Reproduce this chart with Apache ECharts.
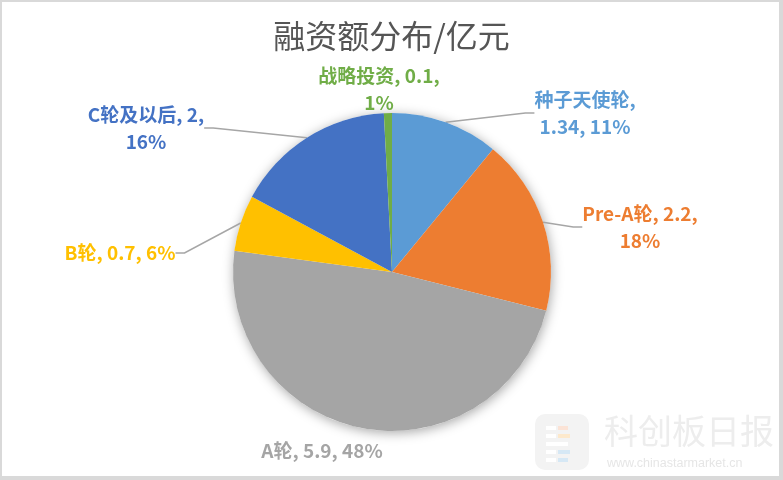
<!DOCTYPE html>
<html>
<head>
<meta charset="utf-8">
<script src="https://cdn.jsdelivr.net/npm/echarts@6/dist/echarts.min.js"></script>
<style>
  html, body { margin: 0; padding: 0; background: #fff; }
  #wrap { position: relative; width: 783px; height: 480px; }
  #chart { position: absolute; left: 0; top: 0; width: 783px; height: 480px; }
  #frame { position: absolute; left: 0; top: 0; width: 777px; height: 474px;
           border-style: solid; border-color: #d9d9d9; border-width: 2px 4px 4px 2px; pointer-events: none; }
</style>
</head>
<body>
<div id="wrap"><div id="chart"></div><div id="frame"></div></div>
<script>
// ---- data ----
const chartTitle = '融资额分布/亿元';
const categories = ['种子天使轮', 'Pre-A轮', 'A轮', 'B轮', 'C轮及以后', '战略投资'];
const values = [1.34, 2.2, 5.9, 0.7, 2, 0.1];
const watermarkName = '科创板日报';
const watermarkUrl = 'www.chinastarmarket.cn';

// ---- styles / layout ----
const colors = ['#5B9BD5', '#ED7D31', '#A5A5A5', '#FFC000', '#4472C4', '#70AD47'];
const labelTemplates = ['{b},\n{c}, {d}%', '{b}, {c},\n{d}%', '{b}, {c}, {d}%', '{b}, {c}, {d}%', '{b}, {c},\n{d}%', '{b}, {c},\n{d}%'];
const labelCenters = [[585, 113], [640, 227], [322, 451], [120, 253], [146, 128], [379, 89]];
const showLine = [true, true, false, true, true, false];

const chart = echarts.init(document.getElementById('chart'), null, { renderer: 'canvas' });
const FONT = '"Noto Sans CJK SC", "Noto Sans", sans-serif';

const pieData = categories.map((name, i) => ({
  name: name,
  value: values[i],
  itemStyle: { color: colors[i] },
  label: {
    color: colors[i],
    formatter: labelTemplates[i]
  },
  labelLine: { show: showLine[i] }
}));

const option = {
  animation: false,
  title: {
    text: chartTitle,
    left: 'center',
    top: 20,
    padding: 0,
    textStyle: { fontFamily: FONT, fontSize: 32, fontWeight: 'normal', color: '#555555' }
  },
  graphic: [
    { type: 'rect', left: 535, top: 414, shape: { width: 54, height: 56, r: 10 }, style: { fill: '#f3f3f3' }, z: 0 },
    { type: 'rect', left: 546, top: 426, shape: { width: 10, height: 4 }, style: { fill: '#ffffff' } },
    { type: 'rect', left: 558, top: 426, shape: { width: 10, height: 4 }, style: { fill: '#fbe3d6' } },
    { type: 'rect', left: 546, top: 434, shape: { width: 10, height: 4 }, style: { fill: '#ffffff' } },
    { type: 'rect', left: 558, top: 434, shape: { width: 12, height: 4 }, style: { fill: '#fde9cc' } },
    { type: 'rect', left: 546, top: 442, shape: { width: 22, height: 4 }, style: { fill: '#ffffff' } },
    { type: 'rect', left: 546, top: 450, shape: { width: 10, height: 4 }, style: { fill: '#ffffff' } },
    { type: 'rect', left: 558, top: 450, shape: { width: 12, height: 4 }, style: { fill: '#d6e8f5' } },
    { type: 'rect', left: 546, top: 458, shape: { width: 10, height: 4 }, style: { fill: '#ffffff' } },
    { type: 'rect', left: 558, top: 458, shape: { width: 10, height: 4 }, style: { fill: '#d6e8f5' } },
    { type: 'text', left: 604, top: 414, style: { text: watermarkName, font: '34px "Noto Sans CJK SC", sans-serif', fill: '#ededed' } },
    { type: 'text', left: 607, top: 457, style: { text: watermarkUrl, font: '12.5px "Liberation Sans", Arial, sans-serif', fill: '#e6e6e6' } }
  ],
  series: [
    {
      type: 'pie',
      silent: true,
      center: [392, 272],
      radius: 159,
      startAngle: 90,
      clockwise: true,
      z: 1,
      label: { show: false },
      labelLine: { show: false },
      itemStyle: { color: '#ffffff', shadowBlur: 12, shadowColor: 'rgba(0,0,0,0.35)', shadowOffsetX: 1, shadowOffsetY: 2 },
      data: [{ value: 1, name: '' }]
    },
    {
      type: 'pie',
      center: [392, 272],
      radius: 159,
      startAngle: 90,
      clockwise: true,
      z: 2,
      percentPrecision: 0,
      avoidLabelOverlap: false,
      itemStyle: { borderWidth: 0 },
      label: {
        show: true,
        fontFamily: FONT,
        fontSize: 19,
        fontWeight: 'bold',
        lineHeight: 27,
        align: 'center'
      },
      labelLine: {
        show: true,
        length: 10,
        length2: 9,
        lineStyle: { color: '#a6a6a6', width: 1.5 }
      },
      labelLayout: function (params) {
        const c = labelCenters[params.dataIndex];
        return {
          x: c[0],
          y: c[1],
          align: 'center',
          verticalAlign: 'middle'
        };
      },
      data: pieData
    }
  ]
};
chart.setOption(option);
</script>
</body>
</html>
